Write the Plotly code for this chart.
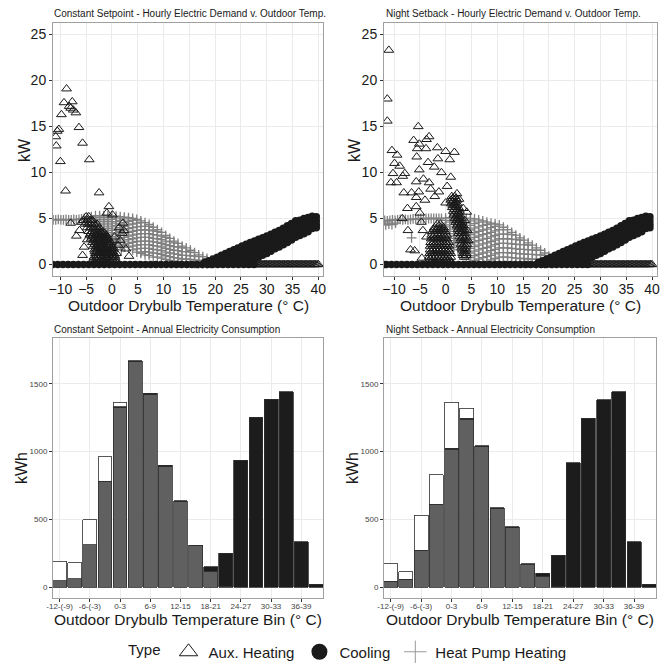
import plotly.graph_objects as go

# ---------------- Bottom panels: annual kWh by outdoor temperature bin ----------------
bins = ["-12-(-9)", "-9-(-6)", "-6-(-3)", "-3-0", "0-3", "3-6", "6-9", "9-12", "12-15",
        "15-18", "18-21", "21-24", "24-27", "27-30", "30-33", "33-36", "36-39", "39-42"]
bin_tick_labels = ["-12-(-9)", "-6-(-3)", "0-3", "6-9", "12-15", "18-21", "24-27", "30-33", "36-39"]

cs_hp_kwh = [48, 62, 313, 780, 1322, 1662, 1420, 888, 630, 303, 118, 4, 0, 0, 0, 0, 0, 0]
cs_cool_kwh = [0, 0, 0, 0, 8, 8, 10, 9, 8, 5, 30, 247, 935, 1253, 1386, 1443, 333, 20]
cs_aux_kwh = [144, 118, 184, 180, 32, 0, 0, 0, 0, 0, 0, 0, 0, 0, 0, 0, 0, 0]

ns_hp_kwh = [44, 57, 271, 611, 1018, 1240, 1035, 578, 438, 168, 80, 3, 0, 0, 0, 0, 0, 0]
ns_cool_kwh = [0, 0, 0, 0, 6, 6, 9, 8, 6, 4, 23, 231, 919, 1244, 1384, 1441, 333, 20]
ns_aux_kwh = [128, 54, 259, 219, 338, 72, 0, 0, 0, 0, 0, 0, 0, 0, 0, 0, 0, 0]

# ---------------- Top panels: hourly kW vs outdoor temperature ----------------
cool_zero_x = [-11.5, -10.5, -9.5, -8.5, -7.5, -6.5, -5.5, -4.5, -3.5, -2.5, -1.5, -0.5, 0.5, 1.5,
               2.5, 3.5, 4.5, 5.5, 6.5, 7.5, 8.5, 9.5, 10.5, 11.5, 12.5, 13.5, 14.5, 15.5, 16.5,
               17.5, 18.5, 19.5, 20.5, 21.5, 22.5, 23.5, 24.5, 25.5, 26.5, 27.5]
cool_zero_x_ns = [-12.0, -11.5, -10.5, -9.5, -8.5, -7.5, -6.5, -5.5, -4.5, -3.5, -2.5, -1.5, -0.5,
                  0.5, 1.5, 2.5, 3.5, 4.5, 5.5, 6.5, 7.5, 8.5, 9.5, 10.5, 11.5, 12.5, 13.5, 14.5,
                  15.5, 16.5, 17.5, 18.5, 19.5, 20.5, 21.5, 22.5, 23.5, 24.5, 25.5, 26.5, 27.5]
aux_zero_x = [26.5, 26.75, 27.0, 27.25, 27.5, 27.75, 28.0, 28.25, 28.5, 28.75, 29.0, 29.25, 29.5,
              29.75, 30.0, 30.25, 30.5, 30.75, 31.0, 31.25, 31.5, 31.75, 32.0, 32.25, 32.5, 32.75,
              33.0, 33.25, 33.5, 33.75, 34.0, 34.25, 34.5, 34.75, 35.0, 35.25, 35.5, 35.75, 36.0,
              36.25, 36.5, 36.75, 37.0, 37.25, 37.5, 37.75, 38.0, 38.25, 38.5, 38.75, 39.0, 39.25,
              39.5, 39.75, 40.0]

cool_col_x = [18.0, 18.8, 19.6, 20.4, 21.2, 22.0, 22.8, 23.6, 24.4, 25.2, 26.0, 26.8, 27.6, 28.4,
              29.2, 30.0, 30.8, 31.6, 32.4, 33.2, 34.0, 34.8, 35.6, 36.4, 37.2, 38.0, 38.8, 39.6]
cool_col_y = [[0.25], [0.4, 0.05], [0.6, 0.2], [0.8, 0.4], [1.0, 0.55, 0.15], [1.2, 0.75, 0.3],
              [1.4, 0.95, 0.5, 0.1], [1.6, 1.15, 0.7, 0.25], [1.8, 1.35, 0.9, 0.45],
              [2.0, 1.55, 1.1, 0.65, 0.2], [2.2, 1.75, 1.3, 0.85, 0.4], [2.4, 1.95, 1.5, 1.05, 0.6],
              [2.55, 2.1, 1.65, 1.2, 0.6], [2.75, 2.3, 1.85, 1.4, 0.8], [2.9, 2.45, 2.0, 1.55, 1.0],
              [3.1, 2.65, 2.2, 1.75, 1.2], [3.3, 2.85, 2.4, 1.95, 1.45], [3.5, 3.05, 2.6, 2.15, 1.7],
              [3.7, 3.25, 2.8, 2.35, 1.9], [3.95, 3.5, 3.05, 2.6, 2.15], [4.2, 3.75, 3.3, 2.85, 2.4],
              [4.45, 4.0, 3.55, 3.1, 2.65], [4.75, 4.3, 3.85, 3.4, 2.95], [4.8, 4.35, 3.9, 3.5, 3.15],
              [5.0, 4.55, 4.1, 3.7, 3.35], [5.1, 4.65, 4.2, 3.75, 3.55], [5.25, 4.8, 4.35, 3.9],
              [5.2, 4.75, 4.35, 4.0]]

# Constant setpoint: heat pump heating
cs_hp_flat_x = [-11.4, -10.9, -10.4, -9.9, -9.4, -8.9, -8.4, -7.9, -7.4, -6.9, -6.4, -5.9, -5.4,
                1.8, 0.6]
cs_hp_flat_y = [4.85, 4.85, 4.9, 4.85, 4.85, 4.9, 4.85, 4.85, 4.9, 4.85, 4.9, 4.95, 5.0,
                1.6, 2.0]
cs_hp_col_x = [-4.8, -4.0, -3.2, -2.4, -1.6, -0.8, 0.0, 0.8, 1.6, 2.4, 3.2, 4.0, 4.8, 5.6, 6.4,
               7.2, 8.0, 8.8, 9.6, 10.4, 11.2, 12.0, 12.8, 13.6, 14.4, 15.2, 16.0, 16.8, 17.6,
               18.4, 19.2, 20.0, 20.8]
cs_hp_col_y = [[5.1, 4.7, 4.3], [5.2, 5.0, 4.6, 4.2], [5.3, 4.9, 4.5, 4.1, 3.7],
               [5.3, 5.1, 4.7, 4.3, 3.9, 3.5, 3.1], [5.3, 4.9, 4.5, 4.1, 3.7, 3.3, 2.9],
               [5.3, 5.1, 4.7, 4.3, 3.9, 3.5, 3.1, 2.7], [5.3, 4.9, 4.5, 4.1, 3.7, 3.3, 2.9, 2.5],
               [5.25, 5.05, 4.65, 4.25, 3.85, 3.45, 3.05, 2.65, 2.3],
               [5.2, 4.8, 4.4, 4.0, 3.6, 3.2, 2.8, 2.4, 2.1],
               [5.15, 4.95, 4.55, 4.15, 3.75, 3.35, 2.95, 2.55, 2.15, 1.9],
               [5.1, 4.7, 4.3, 3.9, 3.5, 3.1, 2.7, 2.3, 1.9],
               [5.0, 4.8, 4.4, 4.0, 3.6, 3.2, 2.8, 2.4, 2.0, 1.6],
               [4.9, 4.5, 4.1, 3.7, 3.3, 2.9, 2.5, 2.1, 1.7, 1.35],
               [4.75, 4.55, 4.15, 3.75, 3.35, 2.95, 2.55, 2.15, 1.75, 1.35, 1.2],
               [4.55, 4.15, 3.75, 3.35, 2.95, 2.55, 2.15, 1.75, 1.4, 1.05],
               [4.35, 4.15, 3.75, 3.35, 2.95, 2.55, 2.15, 1.75, 1.35, 1.0],
               [4.05, 3.65, 3.25, 2.85, 2.45, 2.05, 1.65, 1.25, 0.8],
               [3.8, 3.6, 3.2, 2.8, 2.4, 2.0, 1.6, 1.2, 0.8],
               [3.5, 3.1, 2.7, 2.3, 1.9, 1.5, 1.1, 0.7],
               [3.15, 2.95, 2.55, 2.15, 1.75, 1.35, 0.95, 0.55],
               [2.85, 2.45, 2.05, 1.65, 1.25, 0.85, 0.45],
               [2.55, 2.35, 1.95, 1.55, 1.15, 0.75, 0.35],
               [2.3, 1.9, 1.5, 1.1, 0.7, 0.35], [2.0, 1.8, 1.4, 1.0, 0.6, 0.2],
               [1.8, 1.4, 1.0, 0.6, 0.25], [1.55, 1.35, 0.95, 0.55, 0.15], [1.3, 0.9, 0.5, 0.1],
               [1.05, 0.85, 0.45, 0.1], [0.85, 0.45, 0.1], [0.65, 0.45, 0.1], [0.45, 0.1], [0.3],
               [0.15]]

# Constant setpoint: aux heating (scattered points and dense cluster rows)
cs_aux_x = [-8.8, -9.3, -7.7, -8.3, -8.0, -7.5, -7.0, -9.8, -10.3, -10.6, -10.9, -6.4, -10.8,
            -5.7, -10.0, -4.4, -9.0, -2.5, -0.6, -1.0, 0.1, -8.0, -6.9, -6.3, -5.9, -5.7, -5.4,
            -4.8, 2.1, 2.3, 2.0, 2.7, 3.3, 1.2, 0.9, 1.6, 0.5, 1.4]
cs_aux_y = [19.1, 17.6, 17.7, 17.2, 17.0, 16.8, 16.5, 16.3, 14.7, 14.5, 13.9, 14.9, 12.9,
            13.2, 11.2, 11.4, 8.0, 7.8, 6.3, 5.6, 5.4, 4.5, 3.1, 3.7, 4.6, 1.0, 1.9,
            2.7, 4.5, 3.7, 3.4, 1.7, 0.9, 2.1, 1.2, 2.6, 3.0, 4.0]
cs_aux_row_y = [5.2, 4.8, 4.4, 4.0, 3.6, 3.4, 3.2, 3.0, 2.8, 2.6, 2.4, 2.2, 2.0, 1.8, 1.6, 1.4,
                1.2, 1.0, 0.8, 0.6, 0.4, 0.2]
cs_aux_row_x = [[-5.0, -4.5], [-5.5, -4.8, -4.2, -3.8], [-5.2, -4.6, -4.0, -3.4, -2.9],
                [-4.8, -4.2, -3.6, -3.0, -2.5], [-4.5, -3.9, -3.3, -2.8, -2.3, -1.8],
                [-4.1, -3.5, -2.9, -2.4, -1.9, -1.4],
                [-4.3, -3.7, -3.1, -2.6, -2.1, -1.6, -1.1],
                [-3.9, -3.2, -2.6, -2.1, -1.6, -1.0],
                [-4.0, -3.4, -2.8, -2.4, -1.9, -1.4, -0.9],
                [-3.5, -2.9, -2.5, -2.0, -1.5, -1.0, -0.5],
                [-3.8, -3.2, -2.7, -2.2, -1.7, -1.2, -0.7, -0.2],
                [-3.3, -2.8, -2.3, -1.8, -1.3, -0.8, -0.3],
                [-3.6, -3.0, -2.5, -2.0, -1.5, -1.0, -0.5, 0.0],
                [-3.1, -2.6, -2.1, -1.6, -1.1, -0.6, -0.1, 0.3],
                [-3.4, -2.8, -2.3, -1.8, -1.3, -0.8, -0.3, 0.2],
                [-3.3, -2.9, -2.4, -1.9, -1.4, -0.9, -0.4, 0.1],
                [-3.2, -2.6, -2.1, -1.6, -1.1, -0.6, -0.1, 0.4],
                [-3.0, -2.5, -2.0, -1.5, -1.0, -0.5, 0.0, 0.5],
                [-3.5, -2.9, -2.4, -1.9, -1.4, -0.9, -0.4, 0.1, 0.6],
                [-3.2, -2.6, -2.1, -1.6, -1.1, -0.6, -0.1, 0.4],
                [-3.8, -3.0, -2.2, -1.6, -1.0, -0.4, 0.3, 0.9],
                [-3.5, -2.7, -1.9, -1.3, -0.7, 0.0, 0.6]]

# Night setback: heat pump heating
ns_hp_flat_x = [-11.8, -11.3, -10.8, -10.3, -9.8, -9.3, -8.8, -8.3, -7.8, -7.3, -6.8, -6.3,
                -5.8, -5.3, -4.8, -4.3, -3.8, -3.3, -2.8, -2.3, -1.8, -1.3, -11.6, -11.0, -10.4,
                -9.7, -6.6]
ns_hp_flat_y = [4.8, 4.75, 4.8, 4.85, 4.8, 4.85, 4.9, 4.85, 4.9, 4.85, 4.9, 4.95, 4.9, 4.95,
                5.0, 4.95, 5.0, 5.0, 5.0, 5.0, 5.0, 5.0, 4.3, 4.4, 4.35, 4.5, 2.9]
ns_hp_col_x = [-0.8, 0.0, 0.8, 1.6, 2.4, 3.2, 4.0, 4.8, 5.6, 6.4, 7.2, 8.0, 8.8, 9.6, 10.4,
               11.2, 12.0, 12.8, 13.6, 14.4, 15.2, 16.0, 16.8, 17.6, 18.4, 19.2, 20.0, 20.8]
ns_hp_col_y = [[5.0, 4.5, 4.0, 3.5, 3.0], [5.05, 4.8, 4.3, 3.8, 3.3, 2.8],
               [5.1, 4.6, 4.1, 3.6, 3.1, 2.6, 2.2], [5.1, 4.85, 4.35, 3.85, 3.35, 2.85, 2.35, 1.85],
               [5.1, 4.6, 4.1, 3.6, 3.1, 2.6, 2.1, 1.6],
               [5.1, 4.85, 4.35, 3.85, 3.35, 2.85, 2.35, 1.85, 1.35, 1.0],
               [5.0, 4.5, 4.0, 3.5, 3.0, 2.5, 2.0, 1.5, 1.0, 0.6],
               [5.0, 4.75, 4.25, 3.75, 3.25, 2.75, 2.25, 1.75, 1.25, 0.75, 0.3],
               [4.95, 4.45, 3.95, 3.45, 2.95, 2.45, 1.95, 1.45, 0.95, 0.45],
               [4.85, 4.6, 4.1, 3.6, 3.1, 2.6, 2.1, 1.6, 1.1, 0.6, 0.2],
               [4.75, 4.25, 3.75, 3.25, 2.75, 2.25, 1.75, 1.25, 0.75, 0.3],
               [4.6, 4.35, 3.85, 3.35, 2.85, 2.35, 1.85, 1.35, 0.85, 0.35],
               [4.5, 4.0, 3.5, 3.0, 2.5, 2.0, 1.5, 1.0, 0.5],
               [4.4, 4.15, 3.65, 3.15, 2.65, 2.15, 1.65, 1.15, 0.65, 0.2],
               [4.3, 3.8, 3.3, 2.8, 2.3, 1.8, 1.3, 0.8, 0.3],
               [4.05, 3.8, 3.3, 2.8, 2.3, 1.8, 1.3, 0.8, 0.3],
               [3.8, 3.3, 2.8, 2.3, 1.8, 1.3, 0.8, 0.3],
               [3.5, 3.25, 2.75, 2.25, 1.75, 1.25, 0.75, 0.25],
               [3.2, 2.7, 2.2, 1.7, 1.2, 0.7, 0.25], [2.9, 2.65, 2.15, 1.65, 1.15, 0.65, 0.2],
               [2.65, 2.15, 1.65, 1.15, 0.65, 0.2], [2.35, 2.1, 1.6, 1.1, 0.6, 0.15],
               [2.1, 1.6, 1.1, 0.6, 0.2], [1.8, 1.55, 1.05, 0.55, 0.1], [1.55, 1.05, 0.55, 0.15],
               [1.25, 1.0, 0.5, 0.1], [0.9, 0.45], [0.4, 0.1]]

# Night setback: aux heating
ns_aux_x = [-11.0, -11.3, -11.3, -5.3, -3.2, -3.7, -6.2, -5.1, -5.5, -10.4, -1.6, 1.7, -3.8,
            -9.4, -5.6, -3.4, -1.5, 0.8, -9.9, -8.9, -10.2, -10.6, -9.5, -8.3, -2.2, -0.8, 1.0,
            0.0, -5.7, -3.2, -5.2, -2.9, 0.3, -6.6, -8.1, -7.4, -5.7, -4.0, -2.1, -1.3, 0.0,
            2.2, 2.6, 1.8, 3.4, 4.1, 3.7, 4.2, 4.4, -8.4, -7.3, -6.8, -6.0, -4.6, -5.7, -5.0,
            -4.7, -4.4, -3.7, -5.1, -4.3, -7.9]
ns_aux_y = [23.3, 18.0, 15.6, 15.0, 13.9, 13.6, 13.5, 13.1, 12.6, 12.4, 12.7, 12.2, 12.6,
            11.9, 11.7, 11.1, 11.5, 11.4, 11.0, 10.7, 9.9, 8.9, 8.9, 9.6, 10.6, 10.0, 9.5,
            12.3, 9.0, 8.9, 7.9, 8.2, 8.5, 7.8, 7.8, 6.1, 7.3, 7.0, 7.4, 7.9, 6.7,
            7.7, 7.1, 6.4, 6.1, 5.7, 4.8, 3.7, 2.6, 5.0, 3.7, 1.6, 1.5, 0.7, 6.3, 5.6,
            4.6, 3.7, 3.0, 10.3, 9.3, 9.9]
ns_aux_row_y = [7.4, 7.2, 7.0, 6.8, 6.6, 6.4, 6.2, 6.0, 5.8, 5.6, 5.4, 5.2, 5.0, 4.8, 4.6, 4.4,
                4.4, 4.2, 4.0, 4.0, 3.8, 3.8, 3.6, 3.6, 3.4, 3.2, 3.0, 3.0, 2.8, 2.8, 2.6, 2.4,
                2.2, 2.2, 2.0, 2.0, 1.8, 1.6, 1.4, 1.4, 1.2, 1.0, 0.8, 0.6, 0.4, 0.2]
ns_aux_row_x = [[1.2, 1.8], [1.4, 2.0], [1.0, 1.6, 2.2], [1.3, 1.9], [1.1, 1.7, 2.3], [1.4, 2.0],
                [1.3, 1.9, 2.5], [1.7, 2.3], [1.5, 2.1, 2.7], [1.8, 2.4], [1.6, 2.2, 2.8],
                [2.0, 2.6], [1.8, 2.4, 3.0], [2.1, 2.7], [2.0, 2.6, 3.2], [-1.6, -1.0],
                [2.4, 3.0], [2.2, 2.8, 3.4], [-2.2, -1.6, -1.0, -0.4], [2.6, 3.2],
                [2.4, 3.0, 3.6], [-2.3, -1.7, -1.1, -0.5],
                [-2.5, -1.9, -1.3, -0.7, -0.1], [2.7, 3.3], [2.5, 3.1, 3.7],
                [-2.7, -2.1, -1.5, -0.9, -0.3, 0.2], [2.7, 3.3, 3.9],
                [-2.5, -1.9, -1.3, -0.7, -0.1], [-2.8, -2.2, -1.6, -1.0, -0.4, 0.2],
                [3.0, 3.6], [2.8, 3.4, 4.0],
                [-2.9, -2.3, -1.7, -1.1, -0.5, 0.1, 0.6], [3.0, 3.6, 4.1],
                [-2.6, -2.0, -1.4, -0.8, -0.2, 0.3],
                [-3.0, -2.4, -1.8, -1.2, -0.6, 0.0, 0.6], [3.3, 3.9], [3.1, 3.7],
                [-3.0, -2.4, -1.8, -1.2, -0.6, 0.0, 0.6, 3.3, 3.9],
                [-2.8, -2.2, -1.6, -1.0, -0.4, 0.2, 0.7], [3.6],
                [-3.1, -2.5, -1.9, -1.3, -0.7, -0.1, 0.5, 1.0, 3.4, 4.0],
                [3.4, 4.0], [-3.2, -2.6, -2.0, -1.4, -0.8, -0.2, 0.4, 1.0, 3.6],
                [-3.0, -2.3, -1.7, -1.1, -0.5, 0.1, 0.7],
                [-3.3, -2.7, -2.1, -1.5, -0.9, -0.3, 0.3, 0.9],
                [-3.0, -2.0, -1.0, 0.0, 1.0]]

# ---------------- styling ----------------
OFF = 8                      # the page body keeps an 8 px margin
W, H = 670 - OFF, 663 - OFF
FONT = "Liberation Sans, Arial, Helvetica, sans-serif"
DARK = "#1a1a1a"
GRAYPT = "#808080"
HP_FILL, COOL_FILL, AUX_FILL = "#606060", "#1c1c1c", "#ffffff"


def fx(p):
    return (p - OFF) / W


def fy(p):
    return 1 - (p - OFF) / H


def cols_to_xy(cx, cy):
    xs, ys = [], []
    for x, col in zip(cx, cy):
        for y in col:
            xs.append(x)
            ys.append(y)
    return xs, ys


def rows_to_xy(ry, rx):
    xs, ys = [], []
    for y, row in zip(ry, rx):
        for x in row:
            xs.append(x)
            ys.append(y)
    return xs, ys


fig = go.Figure()

aux_marker = dict(symbol="triangle-up-open", size=8.5, color=DARK, line=dict(width=1, color=DARK))
cool_marker = dict(symbol="circle", size=7.5, color=DARK, line=dict(width=0))
hp_marker = dict(symbol="cross-thin", size=7, color=GRAYPT, line=dict(width=1.3, color=GRAYPT))

panels = [
    ("x", "y", cs_hp_flat_x, cs_hp_flat_y, cs_hp_col_x, cs_hp_col_y, cs_aux_x, cs_aux_y,
     cs_aux_row_y, cs_aux_row_x, cool_zero_x),
    ("x2", "y2", ns_hp_flat_x, ns_hp_flat_y, ns_hp_col_x, ns_hp_col_y, ns_aux_x, ns_aux_y,
     ns_aux_row_y, ns_aux_row_x, cool_zero_x_ns),
]
for (xa, ya, hfx, hfy, hcx, hcy, ax_, ay_, ary, arx, czx) in panels:
    hx, hy = cols_to_xy(hcx, hcy)
    fig.add_trace(go.Scatter(x=hfx + hx, y=hfy + hy, mode="markers", marker=hp_marker,
                             xaxis=xa, yaxis=ya, showlegend=False, hoverinfo="skip"))
    cx, cy = cols_to_xy(cool_col_x, cool_col_y)
    fig.add_trace(go.Scatter(x=czx + cx, y=[0] * len(czx) + cy, mode="markers", marker=cool_marker,
                             xaxis=xa, yaxis=ya, showlegend=False, hoverinfo="skip"))
    rx, ry = rows_to_xy(ary, arx)
    fig.add_trace(go.Scatter(x=aux_zero_x + ax_ + rx, y=[0] * len(aux_zero_x) + ay_ + ry,
                             mode="markers", marker=aux_marker,
                             xaxis=xa, yaxis=ya, showlegend=False, hoverinfo="skip"))

bin_pos = list(range(1, len(bins) + 1))


def nz(v):
    return [val if val > 0 else None for val in v]


bar_line = dict(color="#2e2e2e", width=0.8)
for xa, ya, hp, cool, aux in [("x3", "y3", cs_hp_kwh, cs_cool_kwh, cs_aux_kwh),
                              ("x4", "y4", ns_hp_kwh, ns_cool_kwh, ns_aux_kwh)]:
    fig.add_trace(go.Bar(x=bin_pos, y=nz(hp), marker=dict(color=HP_FILL, line=bar_line),
                         xaxis=xa, yaxis=ya, showlegend=False, hovertext=bins))
    fig.add_trace(go.Bar(x=bin_pos, y=nz(cool), marker=dict(color=COOL_FILL, line=bar_line),
                         xaxis=xa, yaxis=ya, showlegend=False, hovertext=bins))
    fig.add_trace(go.Bar(x=bin_pos, y=nz(aux), marker=dict(color=AUX_FILL, line=bar_line),
                         xaxis=xa, yaxis=ya, showlegend=False, hovertext=bins))

fig.add_trace(go.Scatter(x=[None], y=[None], mode="markers", name="Aux. Heating",
                         marker=dict(symbol="triangle-up-open", size=16, color=DARK,
                                     line=dict(width=1, color=DARK))))
fig.add_trace(go.Scatter(x=[None], y=[None], mode="markers", name="Cooling",
                         marker=dict(symbol="circle", size=16, color=DARK)))
fig.add_trace(go.Scatter(x=[None], y=[None], mode="markers", name="Heat Pump Heating",
                         marker=dict(symbol="cross-thin", size=16, color="#999999",
                                     line=dict(width=1, color="#999999"))))

axis_common = dict(showline=True, mirror=True, linecolor="#a0a0a0", linewidth=1,
                   showgrid=True, gridcolor="#ebebeb", gridwidth=1, zeroline=False,
                   ticks="outside", ticklen=3, tickcolor="#333333", tickwidth=1)
top_tick_font = dict(family=FONT, size=14, color=DARK)
bot_tick_font = dict(family=FONT, size=8, color="#444444")

dom_l, dom_r = [fx(53), fx(323)], [fx(384), fx(657)]
dom_top, dom_bot = [fy(276), fy(23)], [fy(598), fy(338)]

fig.update_layout(
    width=W, height=H, margin=dict(l=0, r=0, t=0, b=0, autoexpand=False),
    paper_bgcolor="white", plot_bgcolor="white",
    font=dict(family=FONT, color=DARK),
    barmode="stack", bargap=0.08,
    xaxis=dict(domain=dom_l, anchor="y", range=[-11.43, 40.9], tickvals=list(range(-10, 41, 5)),
               tickfont=top_tick_font, ticklabelstandoff=-3, **axis_common),
    yaxis=dict(domain=dom_top, anchor="x", range=[-1.25, 26.25], tickvals=[0, 5, 10, 15, 20, 25],
               tickfont=top_tick_font, **axis_common),
    xaxis2=dict(domain=dom_r, anchor="y2", range=[-11.94, 40.97], tickvals=list(range(-10, 41, 5)),
                tickfont=top_tick_font, ticklabelstandoff=-3, **axis_common),
    yaxis2=dict(domain=dom_top, anchor="x2", range=[-1.25, 26.25], tickvals=[0, 5, 10, 15, 20, 25],
                tickfont=top_tick_font, **axis_common),
    xaxis3=dict(domain=dom_l, anchor="y3", range=[0.56, 18.44],
                tickvals=bin_pos[::2], ticktext=bin_tick_labels, ticklabelstandoff=-3,
                tickfont=bot_tick_font, **axis_common),
    yaxis3=dict(domain=dom_bot, anchor="x3", range=[-81, 1838], tickvals=[0, 500, 1000, 1500],
                tickfont=bot_tick_font, **axis_common),
    xaxis4=dict(domain=[fx(384), fx(656)], anchor="y4", range=[0.56, 18.44],
                tickvals=bin_pos[::2], ticktext=bin_tick_labels, ticklabelstandoff=-3,
                tickfont=bot_tick_font, **axis_common),
    yaxis4=dict(domain=dom_bot, anchor="x4", range=[-81, 1838], tickvals=[0, 500, 1000, 1500],
                tickfont=bot_tick_font, **axis_common),
    legend=dict(orientation="h", x=fx(349), xanchor="center", y=fy(652), yanchor="middle",
                traceorder="normal",
                font=dict(family=FONT, size=15, color=DARK),
                title=dict(text="Type", font=dict(family=FONT, size=15, color=DARK)),
                itemsizing="trace", bgcolor="rgba(0,0,0,0)"),
)

ann = []


def text(x, y, s, size, xanchor="center", angle=0):
    ann.append(dict(x=fx(x), y=fy(y), xref="paper", yref="paper", text=s, showarrow=False,
                    xanchor=xanchor, yanchor="middle", textangle=angle,
                    font=dict(family=FONT, size=size, color=DARK)))


text(52, 14, "Constant Setpoint - Hourly Electric Demand v. Outdoor Temp.", 10, "left")
text(384, 14, "Night Setback - Hourly Electric Demand v. Outdoor Temp.", 10, "left")
text(52, 329, "Constant Setpoint - Annual Electricity Consumption", 10, "left")
text(384, 329, "Night Setback - Annual Electricity Consumption", 10, "left")
text(24, 150, "kW", 16, angle=-90)
text(354, 150, "kW", 16, angle=-90)
text(22, 468, "kWh", 16, angle=-90)
text(353, 468, "kWh", 16, angle=-90)
text(188, 305, "Outdoor Drybulb Temperature (° C)", 15.5)
text(520, 305, "Outdoor Drybulb Temperature (° C)", 15.5)
text(188, 619, "Outdoor Drybulb Temperature Bin (° C)", 15.5)
text(520, 619, "Outdoor Drybulb Temperature Bin (° C)", 15.5)
fig.update_layout(annotations=ann)

fig.write_html("out.html")
